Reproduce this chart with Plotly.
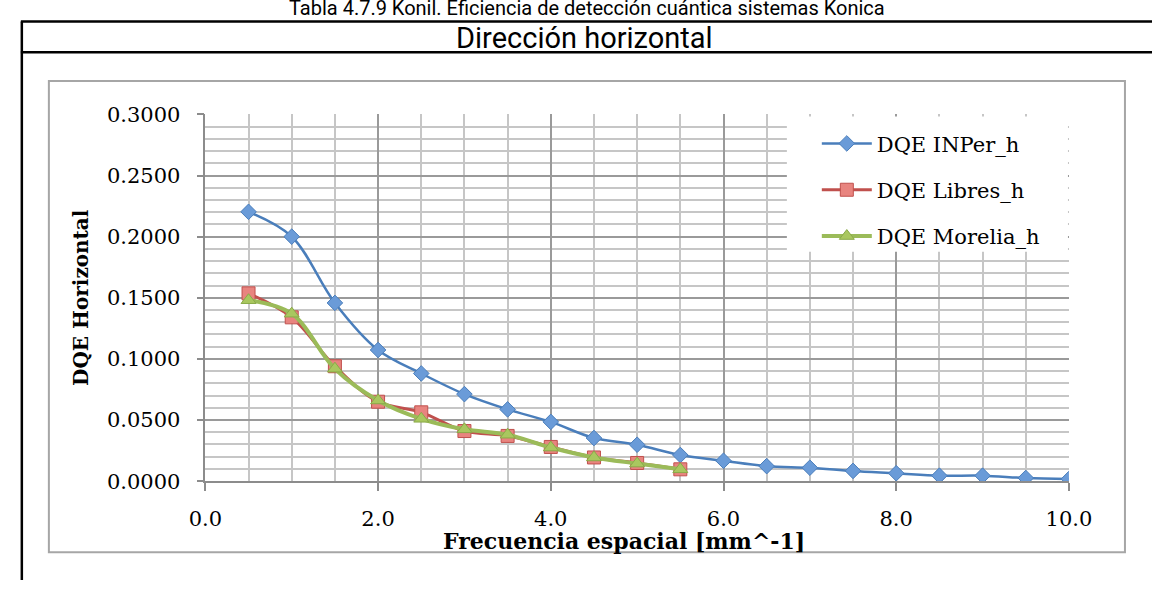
import plotly.graph_objects as go

# Spatial frequency samples [mm^-1]
freq_inper = [0.5, 1.0, 1.5, 2.0, 2.5, 3.0, 3.5, 4.0, 4.5, 5.0,
              5.5, 6.0, 6.5, 7.0, 7.5, 8.0, 8.5, 9.0, 9.5, 10.0]
freq_short = [0.5, 1.0, 1.5, 2.0, 2.5, 3.0, 3.5, 4.0, 4.5, 5.0, 5.5]

# Horizontal DQE per site
dqe_inper = [0.2203, 0.2000, 0.1458, 0.1073, 0.0881, 0.0712, 0.0587, 0.0485, 0.0353, 0.0298,
             0.0214, 0.0167, 0.0123, 0.0110, 0.0084, 0.0065, 0.0045, 0.0045, 0.0026, 0.0018]
dqe_libres = [0.1536, 0.1340, 0.0940, 0.0650, 0.0563, 0.0410, 0.0370, 0.0280, 0.0194, 0.0149, 0.0097]
dqe_morelia = [0.1480, 0.1370, 0.0920, 0.0660, 0.0510, 0.0424, 0.0380, 0.0275, 0.0194, 0.0144, 0.0097]

names = ["DQE INPer_h", "DQE Libres_h", "DQE Morelia_h"]
x_ticks = [0, 2, 4, 6, 8, 10]
y_ticks = [0.0, 0.05, 0.10, 0.15, 0.20, 0.25, 0.30]

W, H = 1175, 592
SERIF = "DejaVu Serif"
SANS = "Roboto, Open Sans, sans-serif"


def px_x(x):
    return x / W


def px_y(y):
    return 1 - y / H


fig = go.Figure()

fig.add_trace(go.Scatter(
    x=freq_inper, y=dqe_inper, name=names[0], mode="lines+markers",
    line=dict(color="#4A7EBB", width=2.5, shape="spline"),
    marker=dict(symbol="diamond", size=12, color="#6A9BD8",
                line=dict(color="#4A7EBB", width=1)),
    legendgroup="a",
))
fig.add_trace(go.Scatter(
    x=freq_short, y=dqe_libres, name=names[1], mode="lines+markers",
    line=dict(color="#C0504D", width=3, shape="spline"),
    marker=dict(symbol="square", size=13, color="#E8847F",
                line=dict(color="#C0504D", width=1)),
    legendgroup="b",
))
fig.add_trace(go.Scatter(
    x=freq_short, y=dqe_morelia, name=names[2], mode="lines+markers",
    line=dict(color="#9BBB59", width=4, shape="spline"),
    marker=dict(symbol="triangle-up", size=13, color="#A9C75F",
                line=dict(color="#8AAA48", width=1)),
    legendgroup="c",
))

x0, x1 = 195, 1089
y_top, y_bot = 106.7, 489

grid_major = "#9A9A9A"
grid_minor = "#C6C6C6"

fig.update_xaxes(
    domain=[px_x(x0), px_x(x1)], range=[0, 10],
    tickvals=x_ticks, ticktext=[f"{v:.1f}" for v in x_ticks],
    ticks="outside", ticklen=8, tickcolor="#8C8C8C", tickwidth=1.5,
    showline=True, linecolor="#8C8C8C", linewidth=1.5,
    showgrid=True, gridcolor=grid_major, gridwidth=1.5,
    minor=dict(dtick=0.5, tick0=0, showgrid=True, gridcolor=grid_minor, gridwidth=1.5),
    tickfont=dict(family=SERIF, size=21, color="#000000"),
    ticklabelstandoff=10,
    zeroline=False,
)
fig.update_yaxes(
    domain=[px_y(y_bot), px_y(y_top)], range=[0, 0.3],
    tickvals=y_ticks, ticktext=[f"{v:.4f}" for v in y_ticks],
    ticks="outside", ticklen=7, tickcolor="#8C8C8C", tickwidth=1.5,
    showline=True, linecolor="#8C8C8C", linewidth=1.5,
    showgrid=True, gridcolor=grid_major, gridwidth=1.5,
    minor=dict(dtick=0.01, tick0=0, showgrid=True, gridcolor=grid_minor, gridwidth=1.5),
    tickfont=dict(family=SERIF, size=21, color="#000000"),
    ticklabelstandoff=12,
    zeroline=False,
    title=dict(text="<b>DQE Horizontal</b>", standoff=13,
               font=dict(family=SERIF, size=20, color="#000000")),
)

shapes = [
    # chart frame
    dict(type="rect", xref="paper", yref="paper",
         x0=px_x(33), x1=px_x(1147), y0=px_y(563), y1=px_y(72),
         line=dict(color="#A6A6A6", width=2), layer="below"),
    # white panel behind the legend
    dict(type="rect", xref="paper", yref="paper",
         x0=px_x(797), x1=px_x(1088), y0=px_y(250), y1=px_y(109),
         line=dict(width=0), fillcolor="#FFFFFF", layer="above"),
    # table rules
    dict(type="line", xref="paper", yref="paper",
         x0=px_x(4), x1=1.0, y0=px_y(10), y1=px_y(10),
         line=dict(color="#000000", width=2.5)),
    dict(type="line", xref="paper", yref="paper",
         x0=px_x(4), x1=1.0, y0=px_y(42), y1=px_y(42),
         line=dict(color="#000000", width=2.5)),
    dict(type="line", xref="paper", yref="paper",
         x0=px_x(5), x1=px_x(5), y0=0, y1=px_y(10),
         line=dict(color="#000000", width=2.5)),
]

annotations = [
    dict(text="Tabla 4.7.9 Konil. Eficiencia de detección cuántica sistemas Konica",
         xref="paper", yref="paper", x=px_x(590), y=px_y(-4), showarrow=False,
         xanchor="center", yanchor="middle",
         font=dict(family=SANS, size=20, color="#000000")),
    dict(text="Dirección horizontal",
         xref="paper", yref="paper", x=px_x(588), y=px_y(27), showarrow=False,
         xanchor="center", yanchor="middle",
         font=dict(family=SANS, size=29, color="#000000")),
    # x-axis title
    dict(text="<b>Frecuencia espacial [mm^-1]</b>",
         xref="paper", yref="paper", x=px_x(628), y=px_y(551), showarrow=False,
         xanchor="center", yanchor="middle",
         font=dict(family=SERIF, size=22, color="#000000")),
]

fig.update_layout(
    width=W, height=H,
    margin=dict(l=0, r=0, t=0, b=0),
    paper_bgcolor="#FFFFFF", plot_bgcolor="#FFFFFF",
    shapes=shapes, annotations=annotations,
    showlegend=True,
    legend=dict(
        x=px_x(828), y=px_y(116), xanchor="left", yanchor="top",
        bgcolor="rgba(255,255,255,0)", borderwidth=0,
        font=dict(family=SERIF, size=21, color="#000000"),
        tracegroupgap=16, traceorder="grouped",
        itemwidth=50,
    ),
)

fig.write_html("out.html", post_script="document.body.style.margin='0';")
